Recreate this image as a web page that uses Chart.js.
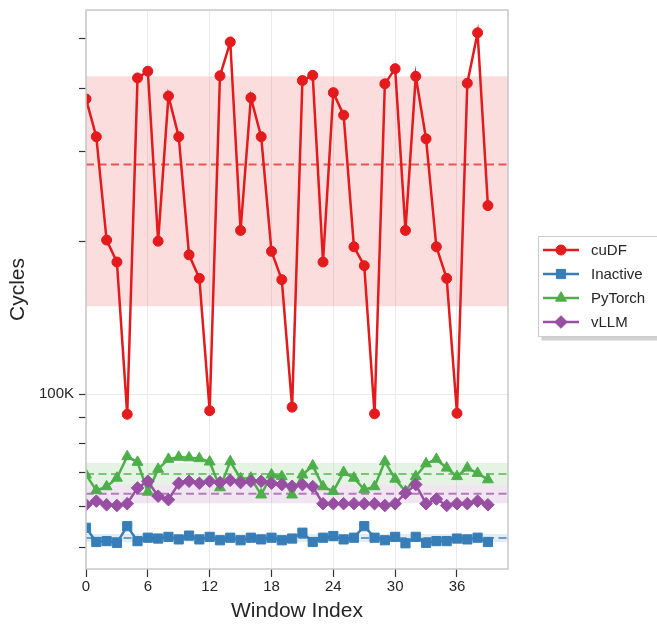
<!DOCTYPE html>
<html>
<head>
<meta charset="utf-8">
<script src="https://cdn.jsdelivr.net/npm/chart.js@4.4.1/dist/chart.umd.min.js"></script>
<style>
  html, body { margin: 0; padding: 0; background: #fff; }
  #wrap { width: 657px; height: 624px; position: relative; }
</style>
</head>
<body>
<div id="wrap"><canvas id="chart"></canvas></div>
<script>
const windowIndex = [0, 1, 2, 3, 4, 5, 6, 7, 8, 9, 10, 11, 12, 13, 14, 15, 16, 17, 18, 19,
  20, 21, 22, 23, 24, 25, 26, 27, 28, 29, 30, 31, 32, 33, 34, 35, 36, 37, 38, 39];

const cudf = [381000, 321000, 201000, 182000, 91300, 419000, 432000, 200000, 386000, 321000,
  188000, 169000, 92800, 423000, 493000, 210000, 383000, 321000, 191000, 168000,
  94300, 414000, 424000, 182000, 392000, 354000, 195000, 179000, 91500, 408000,
  437000, 210000, 422000, 318000, 195000, 169000, 91700, 409000, 514000, 235000];

const inactive = [54600, 51200, 51400, 51000, 55000, 51400, 52200, 52000, 52400, 51800,
  52700, 51800, 52400, 51600, 52200, 51600, 52200, 51800, 52200, 51600,
  52000, 53400, 51200, 52200, 52600, 51800, 52200, 55000, 52200, 51600,
  52400, 50900, 52400, 51000, 51400, 51400, 52000, 51800, 52200, 51200];

const pytorch = [69400, 64700, 65800, 68400, 75400, 73500, 64200, 71200, 74500, 75200,
  75000, 74700, 73600, 65500, 73700, 68200, 68400, 63400, 69400, 68900,
  63400, 69400, 72300, 65800, 64400, 70200, 68400, 64900, 65800, 73700,
  68100, 64400, 68900, 73000, 74500, 71600, 68900, 71600, 69900, 67900];

const vllm = [60600, 61600, 60600, 60400, 60900, 65400, 67400, 63000, 62000, 66800,
  67400, 66800, 67400, 67000, 67700, 67000, 67400, 67400, 66800, 66400,
  65900, 66400, 65800, 60900, 60900, 60900, 60900, 60900, 60900, 60400,
  60900, 63900, 66400, 60900, 62200, 60400, 60900, 60900, 61600, 60600];

// mean and mean +/- std band per series, same order as seriesNames
const seriesNames = ['cuDF', 'Inactive', 'PyTorch', 'vLLM'];
const means = [283000, 52150, 69700, 63700];
const bandHigh = [422000, 53100, 73200, 66300];
const bandLow = [149000, 51200, 66300, 61000];

const xTicks = [0, 6, 12, 18, 24, 30, 36];
const yTicks = [50000, 60000, 70000, 80000, 90000, 100000, 200000, 300000, 400000, 500000];
const yTickLabels = { 100000: '100K' };

const X_MAX = 40.95;
const Y_MIN = 45300;
const Y_MAX = 570000;

const colors = ['#e41a1c', '#377eb8', '#4daf4a', '#984ea3'];
const markers = ['circle', 'rect', 'triangle', 'rectRot'];
const markerRadius = [5, 6.5, 6.3, 6.3];
const FONT = "'Liberation Sans', Arial, sans-serif";

function rgba(hex, a) {
  const n = parseInt(hex.slice(1), 16);
  return `rgba(${n >> 16}, ${(n >> 8) & 255}, ${n & 255}, ${a})`;
}

const allSeries = [cudf, inactive, pytorch, vllm];
const datasets = [];
const flat = y => [{ x: 0, y }, { x: X_MAX, y }];

allSeries.forEach((values, k) => {
  // shaded band
  datasets.push({
    data: flat(bandHigh[k]), fill: '+1', backgroundColor: rgba(colors[k], 0.15),
    borderWidth: 0, pointRadius: 0, order: 20, clip: 0
  });
  datasets.push({
    data: flat(bandLow[k]), fill: false, borderWidth: 0, pointRadius: 0, order: 20, clip: 0
  });
  // mean line
  datasets.push({
    data: flat(means[k]), borderColor: rgba(colors[k], 0.7), borderWidth: 2,
    borderDash: [8, 4.5], pointRadius: 0, order: 10, clip: 0
  });
});

allSeries.forEach((values, k) => {
  datasets.push({
    label: seriesNames[k],
    data: windowIndex.map((x, i) => ({ x, y: values[i] })),
    borderColor: colors[k],
    backgroundColor: colors[k],
    borderWidth: 2.5,
    pointStyle: markers[k],
    pointRadius: markerRadius[k],
    pointBorderWidth: 1,
    pointBorderColor: colors[k],
    pointBackgroundColor: colors[k],
    order: 4 - k,
    clip: 0
  });
});

function drawMarker(ctx, style, x, y, r) {
  ctx.beginPath();
  if (style === 'circle') {
    ctx.arc(x, y, r, 0, Math.PI * 2);
  } else if (style === 'rect') {
    const s = r * Math.SQRT1_2;
    ctx.rect(x - s, y - s, 2 * s, 2 * s);
  } else if (style === 'triangle') {
    ctx.moveTo(x, y - r);
    ctx.lineTo(x + 0.866 * r, y + 0.5 * r);
    ctx.lineTo(x - 0.866 * r, y + 0.5 * r);
    ctx.closePath();
  } else {
    ctx.moveTo(x, y - r);
    ctx.lineTo(x + r, y);
    ctx.lineTo(x, y + r);
    ctx.lineTo(x - r, y);
    ctx.closePath();
  }
  ctx.fill();
  ctx.stroke();
}

const framePlugin = {
  id: 'frame',
  afterDatasetsDraw(chart) {
    const { ctx, chartArea: a } = chart;
    ctx.save();
    ctx.strokeStyle = '#c8c8c8';
    ctx.lineWidth = 1.5;
    ctx.strokeRect(a.left, a.top, a.right - a.left, a.bottom - a.top);
    ctx.restore();
  }
};

const legendPlugin = {
  id: 'sideLegend',
  afterDraw(chart) {
    const ctx = chart.ctx;
    const bx = 538.5, by = 236.5, bw = 130, bh = 100;
    ctx.save();
    ctx.fillStyle = 'rgba(0,0,0,0.18)';
    ctx.fillRect(bx + 3, by + 4, bw, bh);
    ctx.fillStyle = '#fff';
    ctx.fillRect(bx, by, bw, bh);
    ctx.strokeStyle = '#cccccc';
    ctx.lineWidth = 1;
    ctx.strokeRect(bx, by, bw, bh);
    ctx.font = `15px ${FONT}`;
    ctx.textBaseline = 'middle';
    seriesNames.forEach((name, k) => {
      const y = 250 + k * 24;
      ctx.strokeStyle = colors[k];
      ctx.fillStyle = colors[k];
      ctx.lineWidth = 2.5;
      ctx.beginPath();
      ctx.moveTo(543, y);
      ctx.lineTo(579, y);
      ctx.stroke();
      ctx.lineWidth = 1;
      drawMarker(ctx, markers[k], 561, y, markerRadius[k]);
      ctx.fillStyle = '#262626';
      ctx.fillText(name, 591, y + 0.5);
    });
    ctx.restore();
  }
};

new Chart(document.getElementById('chart'), {
  type: 'line',
  data: { datasets },
  plugins: [framePlugin, legendPlugin],
  options: {
    responsive: true,
    maintainAspectRatio: false,
    animation: false,
    layout: { padding: { top: 10, right: 149, left: 0, bottom: 0 } },
    plugins: {
      legend: { display: false },
      tooltip: { enabled: false }
    },
    scales: {
      x: {
        type: 'linear',
        min: 0,
        max: X_MAX,
        afterBuildTicks: scale => { scale.ticks = xTicks.map(v => ({ value: v })); },
        afterFit: scale => { scale.height = 55; scale.paddingLeft = 0; scale.paddingRight = 0; },
        border: { display: false },
        grid: { color: '#ebebeb', lineWidth: 1, tickColor: '#333', tickLength: 8, tickWidth: 1.2 },
        ticks: { color: '#262626', font: { family: FONT, size: 15 }, padding: 1, maxRotation: 0, autoSkip: false },
        title: {
          display: true, text: 'Window Index', color: '#262626',
          font: { family: FONT, size: 21 }, padding: { top: 0, bottom: 0 }
        }
      },
      y: {
        type: 'logarithmic',
        min: Y_MIN,
        max: Y_MAX,
        afterBuildTicks: scale => { scale.ticks = yTicks.map(v => ({ value: v })); },
        afterFit: scale => { scale.width = 86; scale.paddingTop = 0; scale.paddingBottom = 0; },
        border: { display: false },
        grid: {
          color: c => (c.tick && yTickLabels[c.tick.value] ? '#ebebeb' : 'rgba(0,0,0,0)'),
          lineWidth: 1, tickColor: '#333', tickLength: 7, tickWidth: 1.2
        },
        ticks: {
          color: '#262626', font: { family: FONT, size: 15 }, padding: 5, autoSkip: false,
          callback: v => yTickLabels[v] || ''
        },
        title: {
          display: true, text: 'Cycles', color: '#262626',
          font: { family: FONT, size: 21 }, padding: { top: 6, bottom: 0 }
        }
      }
    }
  }
});
</script>
</body>
</html>
